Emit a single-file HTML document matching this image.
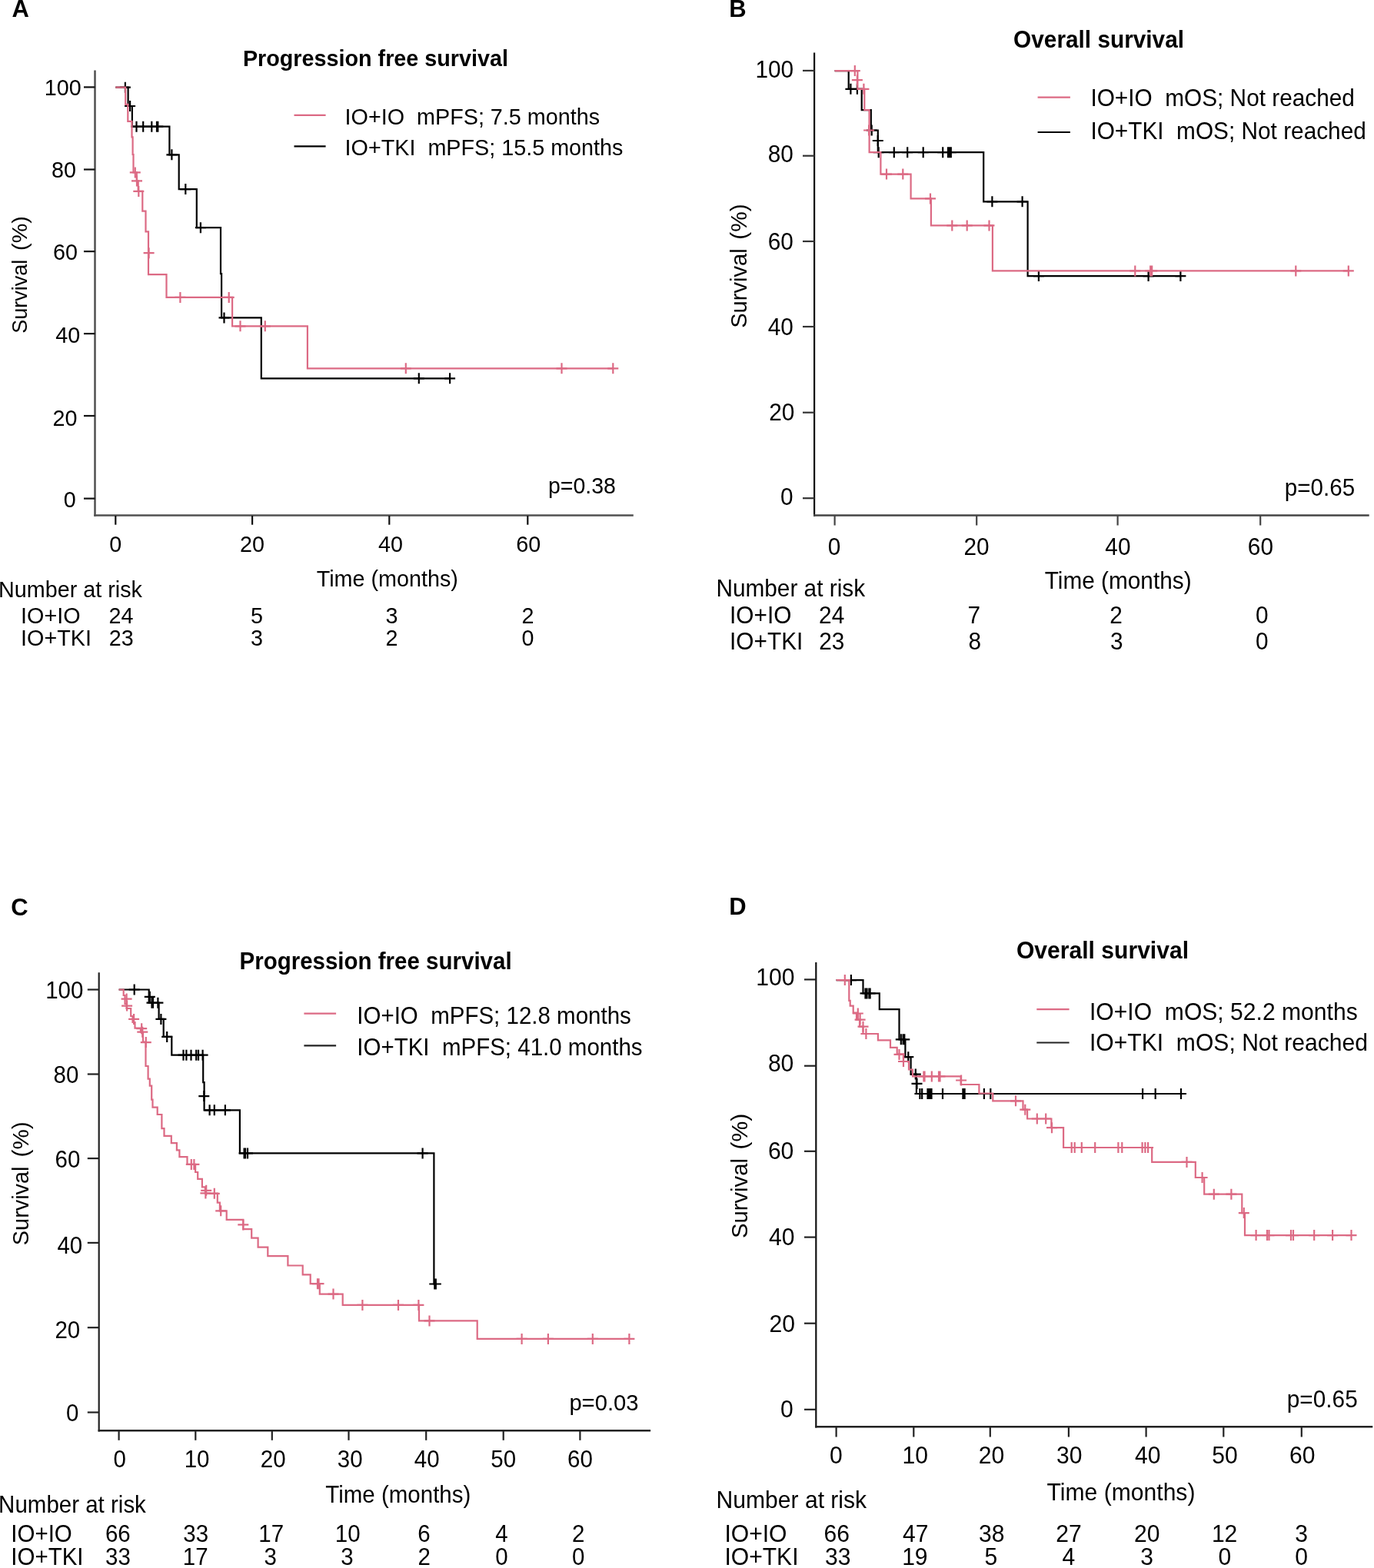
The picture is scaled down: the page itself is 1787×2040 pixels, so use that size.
<!DOCTYPE html><html><head><meta charset="utf-8"><style>html,body{margin:0;padding:0;background:#fff;}svg{display:block;filter:blur(0.45px)}text{font-family:"Liberation Sans",Arial,sans-serif}</style></head><body>
<svg xmlns="http://www.w3.org/2000/svg" width="1787" height="2040" viewBox="0 0 1787 2040">
<rect width="1787" height="2040" fill="#fff"/>
<text x="15.6" y="21.7" transform="matrix(1,0,0,1.035,0,-0.76)" style="font-size:31px;font-weight:bold;" fill="#000" xml:space="preserve">A</text>
<text x="948.3" y="21.7" transform="matrix(1,0,0,1.035,0,-0.76)" style="font-size:31px;font-weight:bold;" fill="#000" xml:space="preserve">B</text>
<text x="14.3" y="1190.6" transform="matrix(1,0,0,1.035,0,-41.67)" style="font-size:31px;font-weight:bold;" fill="#000" xml:space="preserve">C</text>
<text x="948.2" y="1190.4" transform="matrix(1,0,0,1.035,0,-41.66)" style="font-size:31px;font-weight:bold;" fill="#000" xml:space="preserve">D</text>
<text x="315.9" y="86.4" transform="matrix(1,0,0,1.035,0,-3.02)" style="font-size:28.75px;font-weight:bold;" fill="#000" xml:space="preserve">Progression free survival</text>
<line x1="123.5" y1="91.5" x2="123.5" y2="671.7" stroke="#505050" stroke-width="2.5"/>
<line x1="122.3" y1="670.5" x2="823.8" y2="670.5" stroke="#505050" stroke-width="2.5"/>
<line x1="109" y1="113.4" x2="123.5" y2="113.4" stroke="#111" stroke-width="2.2"/>
<text x="57.8" y="124.5" transform="matrix(1,0,0,1.035,0,-4.36)" style="font-size:28.75px;" fill="#000" xml:space="preserve">100</text>
<line x1="109" y1="220.5" x2="123.5" y2="220.5" stroke="#111" stroke-width="2.2"/>
<text x="67.05" y="231.2" transform="matrix(1,0,0,1.035,0,-8.09)" style="font-size:28.75px;" fill="#000" xml:space="preserve">80</text>
<line x1="109" y1="327.1" x2="123.5" y2="327.1" stroke="#111" stroke-width="2.2"/>
<text x="69.1" y="338.2" transform="matrix(1,0,0,1.035,0,-11.84)" style="font-size:28.75px;" fill="#000" xml:space="preserve">60</text>
<line x1="109" y1="434.1" x2="123.5" y2="434.1" stroke="#111" stroke-width="2.2"/>
<text x="72.2" y="446.5" transform="matrix(1,0,0,1.035,0,-15.63)" style="font-size:28.75px;" fill="#000" xml:space="preserve">40</text>
<line x1="109" y1="541" x2="123.5" y2="541" stroke="#111" stroke-width="2.2"/>
<text x="68.6" y="554.4" transform="matrix(1,0,0,1.035,0,-19.4)" style="font-size:28.75px;" fill="#000" xml:space="preserve">20</text>
<line x1="109" y1="648.6" x2="123.5" y2="648.6" stroke="#111" stroke-width="2.2"/>
<text x="82.7" y="659.7" transform="matrix(1,0,0,1.035,0,-23.09)" style="font-size:28.75px;" fill="#000" xml:space="preserve">0</text>
<line x1="150.3" y1="671" x2="150.3" y2="682.7" stroke="#111" stroke-width="2.2"/>
<line x1="328.1" y1="671" x2="328.1" y2="682.7" stroke="#111" stroke-width="2.2"/>
<line x1="506.3" y1="671" x2="506.3" y2="682.7" stroke="#111" stroke-width="2.2"/>
<line x1="686.3" y1="671" x2="686.3" y2="682.7" stroke="#111" stroke-width="2.2"/>
<text x="142.2" y="717.7" transform="matrix(1,0,0,1.035,0,-25.12)" style="font-size:28.75px;" fill="#000" xml:space="preserve">0</text>
<text x="312.05" y="717.7" transform="matrix(1,0,0,1.035,0,-25.12)" style="font-size:28.75px;" fill="#000" xml:space="preserve">20</text>
<text x="492" y="717.7" transform="matrix(1,0,0,1.035,0,-25.12)" style="font-size:28.75px;" fill="#000" xml:space="preserve">40</text>
<text x="671.3" y="717.7" transform="matrix(1,0,0,1.035,0,-25.12)" style="font-size:28.75px;" fill="#000" xml:space="preserve">60</text>
<text x="411.7" y="763.3" transform="matrix(1,0,0,1.035,0,-26.72)" style="font-size:28.75px;" fill="#000" xml:space="preserve">Time (months)</text>
<text transform="translate(35.3,433.82) rotate(-90) scale(0.9398,0.98)" x="0" y="0" style="font-size:28.75px" xml:space="preserve">Survival</text>
<text transform="translate(35.3,325.9) rotate(-90) scale(0.9978,0.98)" x="0" y="0" style="font-size:28.75px" xml:space="preserve">(%)</text>
<text x="713" y="642.5" transform="matrix(1,0,0,1.035,0,-22.49)" style="font-size:28.5px;" fill="#000" xml:space="preserve">p=0.38</text>
<line x1="382.5" y1="149.9" x2="423.6" y2="149.9" stroke="#DC6A84" stroke-width="2.2"/>
<line x1="382.5" y1="190.3" x2="423.6" y2="190.3" stroke="#000" stroke-width="2.2"/>
<text x="448.6" y="162" transform="matrix(1,0,0,1.035,0,-5.67)" style="font-size:28.75px;" fill="#000" xml:space="preserve">IO+IO  mPFS; 7.5 months</text>
<text x="448.6" y="202.3" transform="matrix(1,0,0,1.035,0,-7.08)" style="font-size:28.75px;" fill="#000" xml:space="preserve">IO+TKI  mPFS; 15.5 months</text>
<text x="-1.9" y="777.2" transform="matrix(1,0,0,1.035,0,-27.2)" style="font-size:28.75px;" fill="#000" xml:space="preserve">Number at risk</text>
<text x="27.1" y="811.2" transform="matrix(1,0,0,1.035,0,-28.39)" style="font-size:28.75px;" fill="#000" xml:space="preserve">IO+IO</text>
<text x="27.1" y="839.8" transform="matrix(1,0,0,1.035,0,-29.39)" style="font-size:28.75px;" fill="#000" xml:space="preserve">IO+TKI</text>
<text x="141.6" y="811.3" transform="matrix(1,0,0,1.035,0,-28.4)" style="font-size:28.75px;" fill="#000" xml:space="preserve">24</text>
<text x="325.9" y="811.3" transform="matrix(1,0,0,1.035,0,-28.4)" style="font-size:28.75px;" fill="#000" xml:space="preserve">5</text>
<text x="501.55" y="811.3" transform="matrix(1,0,0,1.035,0,-28.4)" style="font-size:28.75px;" fill="#000" xml:space="preserve">3</text>
<text x="678.5" y="811.3" transform="matrix(1,0,0,1.035,0,-28.4)" style="font-size:28.75px;" fill="#000" xml:space="preserve">2</text>
<text x="141.8" y="839.8" transform="matrix(1,0,0,1.035,0,-29.39)" style="font-size:28.75px;" fill="#000" xml:space="preserve">23</text>
<text x="325.95" y="839.8" transform="matrix(1,0,0,1.035,0,-29.39)" style="font-size:28.75px;" fill="#000" xml:space="preserve">3</text>
<text x="501.5" y="839.8" transform="matrix(1,0,0,1.035,0,-29.39)" style="font-size:28.75px;" fill="#000" xml:space="preserve">2</text>
<text x="678.5" y="839.8" transform="matrix(1,0,0,1.035,0,-29.39)" style="font-size:28.75px;" fill="#000" xml:space="preserve">0</text>
<path d="M150.3,113.7 H166.6 V138 H171.9 V164.7 H220.4 V201.3 H232.7 V246.1 H255.8 V296.2 H287 V356.1 H288.1 V413.4 H339.8 V492.3 H585.1" fill="none" stroke="#000" stroke-width="2.2" stroke-linejoin="miter" stroke-linecap="butt"/>
<path d="M155.9,113.7h14M162.9,106.7v14M162.1,138h14M169.1,131v14M170.5,164.7h14M177.5,157.7v14M179.2,164.7h14M186.2,157.7v14M190.3,164.7h14M197.3,157.7v14M197,164.7h14M204,157.7v14M198.3,164.7h14M205.3,157.7v14M216.4,201.3h14M223.4,194.3v14M234.3,246.1h14M241.3,239.1v14M253.9,296.2h14M260.9,289.2v14M284.5,413.4h14M291.5,406.4v14M537.8,492.3h14M544.8,485.3v14M578.1,492.3h14M585.1,485.3v14" fill="none" stroke="#000" stroke-width="2.2"/>
<path d="M150.3,113.7 H163.2 V135.9 H166.3 V157.8 H171.5 V178.3 H172.6 V201 H173.5 V224.4 H177.8 V235.4 H179.7 V248.9 H185.3 V274.6 H189.5 V301.3 H193 V357.2 H216.5 V386.9 H302.1 V424.3 H399.9 V479.3 H797.3" fill="none" stroke="#DC6A84" stroke-width="2.2" stroke-linejoin="miter" stroke-linecap="butt"/>
<path d="M168.8,224.4h14M175.8,217.4v14M171,235.4h14M178,228.4v14M173.3,248.9h14M180.3,241.9v14M186.6,329.2h14M193.6,322.2v14M227.4,386.9h14M234.4,379.9v14M290.7,386.9h14M297.7,379.9v14M305.5,424.3h14M312.5,417.3v14M337.8,424.3h14M344.8,417.3v14M520.8,479.3h14M527.8,472.3v14M723.5,479.3h14M730.5,472.3v14M790.3,479.3h14M797.3,472.3v14" fill="none" stroke="#DC6A84" stroke-width="2.2"/>
<text x="1318.1" y="62" transform="matrix(1,0,0,1.035,0,-2.17)" style="font-size:29.8px;font-weight:bold;" fill="#000" xml:space="preserve">Overall survival</text>
<line x1="1059.1" y1="68.5" x2="1059.1" y2="671.7" stroke="#111" stroke-width="2.2"/>
<line x1="1058" y1="670.5" x2="1780.7" y2="670.5" stroke="#444" stroke-width="2.5"/>
<line x1="1044" y1="91.9" x2="1059.1" y2="91.9" stroke="#333" stroke-width="2.2"/>
<text x="982.5" y="100.95" transform="matrix(1,0,0,1.035,0,-3.53)" style="font-size:29.8px;" fill="#000" xml:space="preserve">100</text>
<line x1="1044" y1="202.7" x2="1059.1" y2="202.7" stroke="#333" stroke-width="2.2"/>
<text x="998.7" y="211.1" transform="matrix(1,0,0,1.035,0,-7.39)" style="font-size:29.8px;" fill="#000" xml:space="preserve">80</text>
<line x1="1044" y1="314" x2="1059.1" y2="314" stroke="#333" stroke-width="2.2"/>
<text x="998.7" y="324.85" transform="matrix(1,0,0,1.035,0,-11.37)" style="font-size:29.8px;" fill="#000" xml:space="preserve">60</text>
<line x1="1044" y1="425" x2="1059.1" y2="425" stroke="#333" stroke-width="2.2"/>
<text x="998.7" y="435.7" transform="matrix(1,0,0,1.035,0,-15.25)" style="font-size:29.8px;" fill="#000" xml:space="preserve">40</text>
<line x1="1044" y1="536.7" x2="1059.1" y2="536.7" stroke="#333" stroke-width="2.2"/>
<text x="1000.3" y="547.4" transform="matrix(1,0,0,1.035,0,-19.16)" style="font-size:29.8px;" fill="#000" xml:space="preserve">20</text>
<line x1="1044" y1="648.2" x2="1059.1" y2="648.2" stroke="#333" stroke-width="2.2"/>
<text x="1014.9" y="657.35" transform="matrix(1,0,0,1.035,0,-23.01)" style="font-size:29.8px;" fill="#000" xml:space="preserve">0</text>
<line x1="1085.6" y1="671" x2="1085.6" y2="683.5" stroke="#444" stroke-width="2.2"/>
<line x1="1270.2" y1="671" x2="1270.2" y2="683.5" stroke="#444" stroke-width="2.2"/>
<line x1="1453.6" y1="671" x2="1453.6" y2="683.5" stroke="#444" stroke-width="2.2"/>
<line x1="1639.2" y1="671" x2="1639.2" y2="683.5" stroke="#444" stroke-width="2.2"/>
<text x="1076.7" y="722.3" transform="matrix(1,0,0,1.035,0,-25.28)" style="font-size:29.8px;" fill="#000" xml:space="preserve">0</text>
<text x="1253.55" y="722.3" transform="matrix(1,0,0,1.035,0,-25.28)" style="font-size:29.8px;" fill="#000" xml:space="preserve">20</text>
<text x="1437.35" y="722.3" transform="matrix(1,0,0,1.035,0,-25.28)" style="font-size:29.8px;" fill="#000" xml:space="preserve">40</text>
<text x="1622.85" y="722.3" transform="matrix(1,0,0,1.035,0,-25.28)" style="font-size:29.8px;" fill="#000" xml:space="preserve">60</text>
<text x="1358.7" y="765.8" transform="matrix(1,0,0,1.035,0,-26.8)" style="font-size:29.8px;" fill="#000" xml:space="preserve">Time (months)</text>
<text transform="translate(971.3,426.87) rotate(-90) scale(0.9776,0.98)" x="0" y="0" style="font-size:29.8px" xml:space="preserve">Survival</text>
<text transform="translate(971.3,311.7) rotate(-90) scale(1.0006,0.98)" x="0" y="0" style="font-size:29.8px" xml:space="preserve">(%)</text>
<text x="1670.8" y="645.1" transform="matrix(1,0,0,1.035,0,-22.58)" style="font-size:29.6px;" fill="#000" xml:space="preserve">p=0.65</text>
<line x1="1349.6" y1="126.7" x2="1391.9" y2="126.7" stroke="#DC6A84" stroke-width="2.2"/>
<line x1="1349.6" y1="172" x2="1391.9" y2="172" stroke="#000" stroke-width="2.2"/>
<text x="1418.4" y="138.5" transform="matrix(1,0,0,1.035,0,-4.85)" style="font-size:29.8px;" fill="#000" xml:space="preserve">IO+IO  mOS; Not reached</text>
<text x="1418.4" y="180.8" transform="matrix(1,0,0,1.035,0,-6.33)" style="font-size:29.8px;" fill="#000" xml:space="preserve">IO+TKI  mOS; Not reached</text>
<text x="931.4" y="775.7" transform="matrix(1,0,0,1.035,0,-27.15)" style="font-size:29.8px;" fill="#000" xml:space="preserve">Number at risk</text>
<text x="949.1" y="811" transform="matrix(1,0,0,1.035,0,-28.38)" style="font-size:29.8px;" fill="#000" xml:space="preserve">IO+IO</text>
<text x="949.1" y="845" transform="matrix(1,0,0,1.035,0,-29.57)" style="font-size:29.8px;" fill="#000" xml:space="preserve">IO+TKI</text>
<text x="1065.1" y="811" transform="matrix(1,0,0,1.035,0,-28.38)" style="font-size:29.8px;" fill="#000" xml:space="preserve">24</text>
<text x="1258.6" y="811" transform="matrix(1,0,0,1.035,0,-28.38)" style="font-size:29.8px;" fill="#000" xml:space="preserve">7</text>
<text x="1443.2" y="811" transform="matrix(1,0,0,1.035,0,-28.38)" style="font-size:29.8px;" fill="#000" xml:space="preserve">2</text>
<text x="1633.1" y="811" transform="matrix(1,0,0,1.035,0,-28.38)" style="font-size:29.8px;" fill="#000" xml:space="preserve">0</text>
<text x="1065.3" y="845" transform="matrix(1,0,0,1.035,0,-29.57)" style="font-size:29.8px;" fill="#000" xml:space="preserve">23</text>
<text x="1259.6" y="845" transform="matrix(1,0,0,1.035,0,-29.57)" style="font-size:29.8px;" fill="#000" xml:space="preserve">8</text>
<text x="1444.1" y="845" transform="matrix(1,0,0,1.035,0,-29.57)" style="font-size:29.8px;" fill="#000" xml:space="preserve">3</text>
<text x="1633.1" y="845" transform="matrix(1,0,0,1.035,0,-29.57)" style="font-size:29.8px;" fill="#000" xml:space="preserve">0</text>
<path d="M1085.6,92.1 H1103.7 V115.8 H1120.7 V143.1 H1132.8 V169.5 H1141.8 V198.2 H1279.2 V262.3 H1336.6 V359.1 H1535.4" fill="none" stroke="#000" stroke-width="2.2" stroke-linejoin="miter" stroke-linecap="butt"/>
<path d="M1099.4,115.8h14M1106.4,108.8v14M1107.9,115.8h14M1114.9,108.8v14M1126.7,169.5h14M1133.7,162.5v14M1134.8,183h14M1141.8,176v14M1135.7,198.2h14M1142.7,191.2v14M1155.8,198.2h14M1162.8,191.2v14M1173.2,198.2h14M1180.2,191.2v14M1193.7,198.2h14M1200.7,191.2v14M1219.2,198.2h14M1226.2,191.2v14M1226,198.2h14M1233,191.2v14M1228,198.2h14M1235,191.2v14M1229.8,198.2h14M1236.8,191.2v14M1283.4,262.3h14M1290.4,255.3v14M1322.6,262.3h14M1329.6,255.3v14M1343.9,359.1h14M1350.9,352.1v14M1486.6,359.1h14M1493.6,352.1v14M1528.4,359.1h14M1535.4,352.1v14" fill="none" stroke="#000" stroke-width="2.2"/>
<path d="M1085.6,92.1 H1115.4 V115.8 H1124.3 V143.1 H1130.6 V198.2 H1145.4 V226.6 H1184.6 V258.4 H1210.9 V293.4 H1290.9 V352.4 H1753.8" fill="none" stroke="#DC6A84" stroke-width="2.2" stroke-linejoin="miter" stroke-linecap="butt"/>
<path d="M1104.8,92.1h14M1111.8,85.1v14M1107.9,104.2h14M1114.9,97.2v14M1116.4,115.8h14M1123.4,108.8v14M1123.1,169.5h14M1130.1,162.5v14M1146,226.6h14M1153,219.6v14M1167.3,226.6h14M1174.3,219.6v14M1203,258.4h14M1210,251.4v14M1231.3,293.4h14M1238.3,286.4v14M1250.7,293.4h14M1257.7,286.4v14M1279.5,293.4h14M1286.5,286.4v14M1469.3,352.4h14M1476.3,345.4v14M1489.2,352.4h14M1496.2,345.4v14M1491.2,352.4h14M1498.2,345.4v14M1678.3,352.4h14M1685.3,345.4v14M1746.8,352.4h14M1753.8,345.4v14" fill="none" stroke="#DC6A84" stroke-width="2.2"/>
<text x="311.5" y="1260.8" transform="matrix(1,0,0,1.035,0,-44.13)" style="font-size:29.5px;font-weight:bold;" fill="#000" xml:space="preserve">Progression free survival</text>
<line x1="128.7" y1="1265.3" x2="128.7" y2="1862.4" stroke="#222" stroke-width="2.2"/>
<line x1="127.6" y1="1861.2" x2="846.1" y2="1861.2" stroke="#222" stroke-width="2.4"/>
<line x1="113.8" y1="1287.5" x2="128.7" y2="1287.5" stroke="#222" stroke-width="2.2"/>
<text x="59.2" y="1299" transform="matrix(1,0,0,1.035,0,-45.46)" style="font-size:29.5px;" fill="#000" xml:space="preserve">100</text>
<line x1="113.8" y1="1397.5" x2="128.7" y2="1397.5" stroke="#222" stroke-width="2.2"/>
<text x="69.6" y="1409" transform="matrix(1,0,0,1.035,0,-49.31)" style="font-size:29.5px;" fill="#000" xml:space="preserve">80</text>
<line x1="113.8" y1="1507.1" x2="128.7" y2="1507.1" stroke="#222" stroke-width="2.2"/>
<text x="71.6" y="1519.05" transform="matrix(1,0,0,1.035,0,-53.17)" style="font-size:29.5px;" fill="#000" xml:space="preserve">60</text>
<line x1="113.8" y1="1616.9" x2="128.7" y2="1616.9" stroke="#222" stroke-width="2.2"/>
<text x="74.4" y="1630.6" transform="matrix(1,0,0,1.035,0,-57.07)" style="font-size:29.5px;" fill="#000" xml:space="preserve">40</text>
<line x1="113.8" y1="1727.2" x2="128.7" y2="1727.2" stroke="#222" stroke-width="2.2"/>
<text x="71.4" y="1741.1" transform="matrix(1,0,0,1.035,0,-60.94)" style="font-size:29.5px;" fill="#000" xml:space="preserve">20</text>
<line x1="113.8" y1="1837.5" x2="128.7" y2="1837.5" stroke="#222" stroke-width="2.2"/>
<text x="85.95" y="1849" transform="matrix(1,0,0,1.035,0,-64.71)" style="font-size:29.5px;" fill="#000" xml:space="preserve">0</text>
<line x1="154.6" y1="1862" x2="154.6" y2="1873.8" stroke="#222" stroke-width="2.2"/>
<line x1="254.3" y1="1862" x2="254.3" y2="1873.8" stroke="#222" stroke-width="2.2"/>
<line x1="353.8" y1="1862" x2="353.8" y2="1873.8" stroke="#222" stroke-width="2.2"/>
<line x1="453.5" y1="1862" x2="453.5" y2="1873.8" stroke="#222" stroke-width="2.2"/>
<line x1="554.2" y1="1862" x2="554.2" y2="1873.8" stroke="#222" stroke-width="2.2"/>
<line x1="654.7" y1="1862" x2="654.7" y2="1873.8" stroke="#222" stroke-width="2.2"/>
<line x1="754.4" y1="1862" x2="754.4" y2="1873.8" stroke="#222" stroke-width="2.2"/>
<text x="147.6" y="1908.8" transform="matrix(1,0,0,1.035,0,-66.81)" style="font-size:29.5px;" fill="#000" xml:space="preserve">0</text>
<text x="239.65" y="1908.8" transform="matrix(1,0,0,1.035,0,-66.81)" style="font-size:29.5px;" fill="#000" xml:space="preserve">10</text>
<text x="338.8" y="1908.8" transform="matrix(1,0,0,1.035,0,-66.81)" style="font-size:29.5px;" fill="#000" xml:space="preserve">20</text>
<text x="438.8" y="1908.8" transform="matrix(1,0,0,1.035,0,-66.81)" style="font-size:29.5px;" fill="#000" xml:space="preserve">30</text>
<text x="538.8" y="1908.8" transform="matrix(1,0,0,1.035,0,-66.81)" style="font-size:29.5px;" fill="#000" xml:space="preserve">40</text>
<text x="638.35" y="1908.8" transform="matrix(1,0,0,1.035,0,-66.81)" style="font-size:29.5px;" fill="#000" xml:space="preserve">50</text>
<text x="738" y="1908.8" transform="matrix(1,0,0,1.035,0,-66.81)" style="font-size:29.5px;" fill="#000" xml:space="preserve">60</text>
<text x="423.3" y="1955.5" transform="matrix(1,0,0,1.035,0,-68.44)" style="font-size:29.5px;" fill="#000" xml:space="preserve">Time (months)</text>
<text transform="translate(36.6,1620.17) rotate(-90) scale(0.9793,0.98)" x="0" y="0" style="font-size:29.5px" xml:space="preserve">Survival</text>
<text transform="translate(36.6,1505.4) rotate(-90) scale(1.0005,0.98)" x="0" y="0" style="font-size:29.5px" xml:space="preserve">(%)</text>
<text x="740.4" y="1835.1" transform="matrix(1,0,0,1.035,0,-64.23)" style="font-size:29.2px;" fill="#000" xml:space="preserve">p=0.03</text>
<line x1="395.4" y1="1318.7" x2="437.1" y2="1318.7" stroke="#DC6A84" stroke-width="2.2"/>
<line x1="395.4" y1="1360.3" x2="437.1" y2="1360.3" stroke="#222" stroke-width="2.2"/>
<text x="464.3" y="1332.1" transform="matrix(1,0,0,1.035,0,-46.62)" style="font-size:29.5px;" fill="#000" xml:space="preserve">IO+IO  mPFS; 12.8 months</text>
<text x="464.3" y="1372.9" transform="matrix(1,0,0,1.035,0,-48.05)" style="font-size:29.5px;" fill="#000" xml:space="preserve">IO+TKI  mPFS; 41.0 months</text>
<text x="-1.9" y="1968.3" transform="matrix(1,0,0,1.035,0,-68.89)" style="font-size:29.5px;" fill="#000" xml:space="preserve">Number at risk</text>
<text x="14.3" y="2005.8" transform="matrix(1,0,0,1.035,0,-70.2)" style="font-size:29.5px;" fill="#000" xml:space="preserve">IO+IO</text>
<text x="14.3" y="2035.8" transform="matrix(1,0,0,1.035,0,-71.25)" style="font-size:29.5px;" fill="#000" xml:space="preserve">IO+TKI</text>
<text x="136.9" y="2005.8" transform="matrix(1,0,0,1.035,0,-70.2)" style="font-size:29.5px;" fill="#000" xml:space="preserve">66</text>
<text x="238.3" y="2005.8" transform="matrix(1,0,0,1.035,0,-70.2)" style="font-size:29.5px;" fill="#000" xml:space="preserve">33</text>
<text x="336.25" y="2005.8" transform="matrix(1,0,0,1.035,0,-70.2)" style="font-size:29.5px;" fill="#000" xml:space="preserve">17</text>
<text x="435.85" y="2005.8" transform="matrix(1,0,0,1.035,0,-70.2)" style="font-size:29.5px;" fill="#000" xml:space="preserve">10</text>
<text x="543.3" y="2005.8" transform="matrix(1,0,0,1.035,0,-70.2)" style="font-size:29.5px;" fill="#000" xml:space="preserve">6</text>
<text x="644.25" y="2005.8" transform="matrix(1,0,0,1.035,0,-70.2)" style="font-size:29.5px;" fill="#000" xml:space="preserve">4</text>
<text x="744" y="2005.8" transform="matrix(1,0,0,1.035,0,-70.2)" style="font-size:29.5px;" fill="#000" xml:space="preserve">2</text>
<text x="137.1" y="2035.8" transform="matrix(1,0,0,1.035,0,-71.25)" style="font-size:29.5px;" fill="#000" xml:space="preserve">33</text>
<text x="237.85" y="2035.8" transform="matrix(1,0,0,1.035,0,-71.25)" style="font-size:29.5px;" fill="#000" xml:space="preserve">17</text>
<text x="343.4" y="2035.8" transform="matrix(1,0,0,1.035,0,-71.25)" style="font-size:29.5px;" fill="#000" xml:space="preserve">3</text>
<text x="443.2" y="2035.8" transform="matrix(1,0,0,1.035,0,-71.25)" style="font-size:29.5px;" fill="#000" xml:space="preserve">3</text>
<text x="543.4" y="2035.8" transform="matrix(1,0,0,1.035,0,-71.25)" style="font-size:29.5px;" fill="#000" xml:space="preserve">2</text>
<text x="644.2" y="2035.8" transform="matrix(1,0,0,1.035,0,-71.25)" style="font-size:29.5px;" fill="#000" xml:space="preserve">0</text>
<text x="744" y="2035.8" transform="matrix(1,0,0,1.035,0,-71.25)" style="font-size:29.5px;" fill="#000" xml:space="preserve">0</text>
<path d="M154.6,1287.5 H193.7 V1304.7 H206.6 V1325.9 H212.7 V1348.9 H223.3 V1372.7 H264.2 V1408.2 H265.6 V1444.3 H311.9 V1500.4 H564.4 V1670.5 H566.8" fill="none" stroke="#000" stroke-width="2.2" stroke-linejoin="miter" stroke-linecap="butt"/>
<path d="M167.7,1287.5h14M174.7,1280.5v14M187.8,1296.8h14M194.8,1289.8v14M190.5,1304.7h14M197.5,1297.7v14M192,1304.7h14M199,1297.7v14M198.4,1304.7h14M205.4,1297.7v14M202.4,1325.9h14M209.4,1318.9v14M210.2,1348.9h14M217.2,1341.9v14M231.5,1372.7h14M238.5,1365.7v14M235.4,1372.7h14M242.4,1365.7v14M241.5,1372.7h14M248.5,1365.7v14M248.2,1372.7h14M255.2,1365.7v14M251,1372.7h14M258,1365.7v14M256.6,1372.7h14M263.6,1365.7v14M258.3,1426.1h14M265.3,1419.1v14M265.6,1444.3h14M272.6,1437.3v14M271.8,1444.3h14M278.8,1437.3v14M285.9,1444.3h14M292.9,1437.3v14M310.6,1500.4h14M317.6,1493.4v14M312,1500.4h14M319,1493.4v14M315,1500.4h14M322,1493.4v14M542.6,1500.4h14M549.6,1493.4v14M558.3,1670.5h14M565.3,1663.5v14M559.8,1670.5h14M566.8,1663.5v14" fill="none" stroke="#000" stroke-width="2.2"/>
<path d="M154.6,1287.5 H160.7 V1295 H162.5 V1306 H164.5 V1312 H170.2 V1322 H172.5 V1330 H175.5 V1337.7 H183 V1343 H186 V1355.6 H189.5 V1387 H192.6 V1403.7 H194.8 V1412.7 H197.2 V1430.6 H198.5 V1440.7 H204.7 V1450 H210.4 V1468.1 H213.5 V1477.8 H222.8 V1487.1 H229.9 V1496.3 H233.4 V1505.1 H243.5 V1514.9 H254.1 V1525 H257.2 V1533.8 H262.9 V1544.4 H266.9 V1552.6 H282.8 V1564.7 H285.9 V1575.3 H294.7 V1586.8 H316.3 V1599.2 H327.2 V1610.6 H335.6 V1622.7 H348.3 V1634.1 H374.4 V1646.5 H393.7 V1658.3 H403.7 V1670.2 H415.8 V1683.6 H445.7 V1697.9 H545 V1718.4 H620.7 V1741.9 H818.4" fill="none" stroke="#DC6A84" stroke-width="2.2" stroke-linejoin="miter" stroke-linecap="butt"/>
<path d="M157.6,1299.6h14M164.6,1292.6v14M158.1,1308.6h14M165.1,1301.6v14M167.1,1325.9h14M174.1,1318.9v14M177.2,1338.2h14M184.2,1331.2v14M178.3,1342.7h14M185.3,1335.7v14M182.8,1356.1h14M189.8,1349.1v14M241.8,1514.9h14M248.8,1507.9v14M245.4,1514.9h14M252.4,1507.9v14M261.2,1548.8h14M268.2,1541.8v14M260.4,1552.4h14M267.4,1545.4v14M271.8,1552.8h14M278.8,1545.8v14M280.2,1575.3h14M287.2,1568.3v14M309.3,1593.4h14M316.3,1586.4v14M406,1670.2h14M413,1663.2v14M407.5,1670.2h14M414.5,1663.2v14M426.5,1683.6h14M433.5,1676.6v14M464.4,1697.9h14M471.4,1690.9v14M511,1697.9h14M518,1690.9v14M537.4,1697.9h14M544.4,1690.9v14M551.5,1718.4h14M558.5,1711.4v14M671.6,1741.9h14M678.6,1734.9v14M705.9,1741.9h14M712.9,1734.9v14M763.8,1741.9h14M770.8,1734.9v14M811.4,1741.9h14M818.4,1734.9v14" fill="none" stroke="#DC6A84" stroke-width="2.2"/>
<text x="1321.9" y="1247" transform="matrix(1,0,0,1.035,0,-43.64)" style="font-size:30.1px;font-weight:bold;" fill="#000" xml:space="preserve">Overall survival</text>
<line x1="1061.3" y1="1252" x2="1061.3" y2="1857.4" stroke="#111" stroke-width="2.2"/>
<line x1="1060.2" y1="1856.2" x2="1785.3" y2="1856.2" stroke="#222" stroke-width="2.4"/>
<line x1="1046" y1="1274.4" x2="1061.3" y2="1274.4" stroke="#222" stroke-width="2.2"/>
<text x="983.2" y="1282.3" transform="matrix(1,0,0,1.035,0,-44.88)" style="font-size:30.1px;" fill="#000" xml:space="preserve">100</text>
<line x1="1046" y1="1386.7" x2="1061.3" y2="1386.7" stroke="#222" stroke-width="2.2"/>
<text x="998.9" y="1393.95" transform="matrix(1,0,0,1.035,0,-48.79)" style="font-size:30.1px;" fill="#000" xml:space="preserve">80</text>
<line x1="1046" y1="1497.8" x2="1061.3" y2="1497.8" stroke="#222" stroke-width="2.2"/>
<text x="998.9" y="1508.4" transform="matrix(1,0,0,1.035,0,-52.79)" style="font-size:30.1px;" fill="#000" xml:space="preserve">60</text>
<line x1="1046" y1="1609.6" x2="1061.3" y2="1609.6" stroke="#222" stroke-width="2.2"/>
<text x="1000" y="1619.8" transform="matrix(1,0,0,1.035,0,-56.69)" style="font-size:30.1px;" fill="#000" xml:space="preserve">40</text>
<line x1="1046" y1="1721.7" x2="1061.3" y2="1721.7" stroke="#222" stroke-width="2.2"/>
<text x="1000.4" y="1732.9" transform="matrix(1,0,0,1.035,0,-60.65)" style="font-size:30.1px;" fill="#000" xml:space="preserve">20</text>
<line x1="1046" y1="1833.8" x2="1061.3" y2="1833.8" stroke="#222" stroke-width="2.2"/>
<text x="1014.9" y="1844.3" transform="matrix(1,0,0,1.035,0,-64.55)" style="font-size:30.1px;" fill="#000" xml:space="preserve">0</text>
<line x1="1087.6" y1="1857" x2="1087.6" y2="1869.5" stroke="#222" stroke-width="2.2"/>
<line x1="1188.3" y1="1857" x2="1188.3" y2="1869.5" stroke="#222" stroke-width="2.2"/>
<line x1="1287.8" y1="1857" x2="1287.8" y2="1869.5" stroke="#222" stroke-width="2.2"/>
<line x1="1389.9" y1="1857" x2="1389.9" y2="1869.5" stroke="#222" stroke-width="2.2"/>
<line x1="1490.6" y1="1857" x2="1490.6" y2="1869.5" stroke="#222" stroke-width="2.2"/>
<line x1="1591.3" y1="1857" x2="1591.3" y2="1869.5" stroke="#222" stroke-width="2.2"/>
<line x1="1692.8" y1="1857" x2="1692.8" y2="1869.5" stroke="#222" stroke-width="2.2"/>
<text x="1079" y="1904.2" transform="matrix(1,0,0,1.035,0,-66.65)" style="font-size:30.1px;" fill="#000" xml:space="preserve">0</text>
<text x="1173.4" y="1904.2" transform="matrix(1,0,0,1.035,0,-66.65)" style="font-size:30.1px;" fill="#000" xml:space="preserve">10</text>
<text x="1272.8" y="1904.2" transform="matrix(1,0,0,1.035,0,-66.65)" style="font-size:30.1px;" fill="#000" xml:space="preserve">20</text>
<text x="1373.9" y="1904.2" transform="matrix(1,0,0,1.035,0,-66.65)" style="font-size:30.1px;" fill="#000" xml:space="preserve">30</text>
<text x="1476" y="1904.2" transform="matrix(1,0,0,1.035,0,-66.65)" style="font-size:30.1px;" fill="#000" xml:space="preserve">40</text>
<text x="1576.25" y="1904.2" transform="matrix(1,0,0,1.035,0,-66.65)" style="font-size:30.1px;" fill="#000" xml:space="preserve">50</text>
<text x="1677" y="1904.2" transform="matrix(1,0,0,1.035,0,-66.65)" style="font-size:30.1px;" fill="#000" xml:space="preserve">60</text>
<text x="1361.6" y="1951.8" transform="matrix(1,0,0,1.035,0,-68.31)" style="font-size:30.1px;" fill="#000" xml:space="preserve">Time (months)</text>
<text transform="translate(971.6,1611.06) rotate(-90) scale(0.9721,0.98)" x="0" y="0" style="font-size:30.1px" xml:space="preserve">Survival</text>
<text transform="translate(971.6,1495.51) rotate(-90) scale(1.0031,0.98)" x="0" y="0" style="font-size:30.1px" xml:space="preserve">(%)</text>
<text x="1673.8" y="1831.3" transform="matrix(1,0,0,1.035,0,-64.1)" style="font-size:29.8px;" fill="#000" xml:space="preserve">p=0.65</text>
<line x1="1348.3" y1="1313.2" x2="1390.6" y2="1313.2" stroke="#DC6A84" stroke-width="2.2"/>
<line x1="1348.3" y1="1356.5" x2="1390.6" y2="1356.5" stroke="#222" stroke-width="2.2"/>
<text x="1417" y="1327" transform="matrix(1,0,0,1.035,0,-46.44)" style="font-size:30.1px;" fill="#000" xml:space="preserve">IO+IO  mOS; 52.2 months</text>
<text x="1417" y="1366.8" transform="matrix(1,0,0,1.035,0,-47.84)" style="font-size:30.1px;" fill="#000" xml:space="preserve">IO+TKI  mOS; Not reached</text>
<text x="931.5" y="1962.1" transform="matrix(1,0,0,1.035,0,-68.67)" style="font-size:30.1px;" fill="#000" xml:space="preserve">Number at risk</text>
<text x="942.4" y="2005.6" transform="matrix(1,0,0,1.035,0,-70.2)" style="font-size:30.1px;" fill="#000" xml:space="preserve">IO+IO</text>
<text x="942.4" y="2035.8" transform="matrix(1,0,0,1.035,0,-71.25)" style="font-size:30.1px;" fill="#000" xml:space="preserve">IO+TKI</text>
<text x="1071.6" y="2005.6" transform="matrix(1,0,0,1.035,0,-70.2)" style="font-size:30.1px;" fill="#000" xml:space="preserve">66</text>
<text x="1174" y="2005.6" transform="matrix(1,0,0,1.035,0,-70.2)" style="font-size:30.1px;" fill="#000" xml:space="preserve">47</text>
<text x="1273.1" y="2005.6" transform="matrix(1,0,0,1.035,0,-70.2)" style="font-size:30.1px;" fill="#000" xml:space="preserve">38</text>
<text x="1373.2" y="2005.6" transform="matrix(1,0,0,1.035,0,-70.2)" style="font-size:30.1px;" fill="#000" xml:space="preserve">27</text>
<text x="1474.9" y="2005.6" transform="matrix(1,0,0,1.035,0,-70.2)" style="font-size:30.1px;" fill="#000" xml:space="preserve">20</text>
<text x="1575.9" y="2005.6" transform="matrix(1,0,0,1.035,0,-70.2)" style="font-size:30.1px;" fill="#000" xml:space="preserve">12</text>
<text x="1684.35" y="2005.6" transform="matrix(1,0,0,1.035,0,-70.2)" style="font-size:30.1px;" fill="#000" xml:space="preserve">3</text>
<text x="1072.9" y="2035.8" transform="matrix(1,0,0,1.035,0,-71.25)" style="font-size:30.1px;" fill="#000" xml:space="preserve">33</text>
<text x="1173.15" y="2035.8" transform="matrix(1,0,0,1.035,0,-71.25)" style="font-size:30.1px;" fill="#000" xml:space="preserve">19</text>
<text x="1280.45" y="2035.8" transform="matrix(1,0,0,1.035,0,-71.25)" style="font-size:30.1px;" fill="#000" xml:space="preserve">5</text>
<text x="1381.4" y="2035.8" transform="matrix(1,0,0,1.035,0,-71.25)" style="font-size:30.1px;" fill="#000" xml:space="preserve">4</text>
<text x="1483.35" y="2035.8" transform="matrix(1,0,0,1.035,0,-71.25)" style="font-size:30.1px;" fill="#000" xml:space="preserve">3</text>
<text x="1584.6" y="2035.8" transform="matrix(1,0,0,1.035,0,-71.25)" style="font-size:30.1px;" fill="#000" xml:space="preserve">0</text>
<text x="1684.2" y="2035.8" transform="matrix(1,0,0,1.035,0,-71.25)" style="font-size:30.1px;" fill="#000" xml:space="preserve">0</text>
<path d="M1087.6,1275.1 H1122.5 V1292.4 H1143.8 V1313.1 H1169.5 V1352.3 H1177.4 V1375.2 H1184.6 V1397.6 H1191.9 V1423 H1536" fill="none" stroke="#000" stroke-width="2.2" stroke-linejoin="miter" stroke-linecap="butt"/>
<path d="M1099.9,1275.1h14M1106.9,1268.1v14M1118.5,1292.4h14M1125.5,1285.4v14M1120.5,1292.4h14M1127.5,1285.4v14M1123.4,1292.4h14M1130.4,1285.4v14M1124.6,1292.4h14M1131.6,1285.4v14M1164.8,1352.3h14M1171.8,1345.3v14M1167.6,1352.3h14M1174.6,1345.3v14M1169.3,1352.3h14M1176.3,1345.3v14M1174.3,1375.2h14M1181.3,1368.2v14M1183.8,1397.6h14M1190.8,1390.6v14M1185.5,1409.9h14M1192.5,1402.9v14M1189.4,1423h14M1196.4,1416v14M1192.2,1423h14M1199.2,1416v14M1199.5,1423h14M1206.5,1416v14M1201.2,1423h14M1208.2,1416v14M1202.8,1423h14M1209.8,1416v14M1204.5,1423h14M1211.5,1416v14M1219,1423h14M1226,1416v14M1245.4,1423h14M1252.4,1416v14M1247.6,1423h14M1254.6,1416v14M1272.9,1423h14M1279.9,1416v14M1281.3,1423h14M1288.3,1416v14M1479.1,1423h14M1486.1,1416v14M1495.7,1423h14M1502.7,1416v14M1529,1423h14M1536,1416v14" fill="none" stroke="#000" stroke-width="2.2"/>
<path d="M1087.6,1275.1 H1104.3 V1301.9 H1105.7 V1308.6 H1109.7 V1317.6 H1114 V1326.6 H1118 V1335.7 H1122.5 V1345 H1141.9 V1353.4 H1158 V1362.9 H1166.7 V1371.3 H1175 V1381 H1182 V1391.5 H1187 V1400.4 H1249.6 V1411 H1273.4 V1422.5 H1291.3 V1432.3 H1330.5 V1443.7 H1336.1 V1455.5 H1367.4 V1467.2 H1383.1 V1493 H1498.2 V1511.9 H1554.8 V1532 H1566.2 V1553.7 H1615.3 V1578.1 H1619 V1607.1 H1757.5" fill="none" stroke="#DC6A84" stroke-width="2.2" stroke-linejoin="miter" stroke-linecap="butt"/>
<path d="M1091.8,1275.1h14M1098.8,1268.1v14M1108.8,1318.5h14M1115.8,1311.5v14M1111.6,1326.6h14M1118.6,1319.6v14M1115.5,1335.7h14M1122.5,1328.7v14M1119.4,1345h14M1126.4,1338v14M1162.5,1371.9h14M1169.5,1364.9v14M1168,1381h14M1175,1374v14M1194.4,1400.4h14M1201.4,1393.4v14M1195.5,1400.4h14M1202.5,1393.4v14M1204.8,1400.4h14M1211.8,1393.4v14M1214,1400.4h14M1221,1393.4v14M1215.5,1400.4h14M1222.5,1393.4v14M1243.1,1405.5h14M1250.1,1398.5v14M1314,1432.3h14M1321,1425.3v14M1326.3,1443.7h14M1333.3,1436.7v14M1341.8,1455.5h14M1348.8,1448.5v14M1353.2,1455.5h14M1360.2,1448.5v14M1361,1467.2h14M1368,1460.2v14M1386.7,1493h14M1393.7,1486v14M1390.7,1493h14M1397.7,1486v14M1399.8,1493h14M1406.8,1486v14M1417.2,1493h14M1424.2,1486v14M1447.4,1493h14M1454.4,1486v14M1452.3,1493h14M1459.3,1486v14M1478.6,1493h14M1485.6,1486v14M1482.4,1493h14M1489.4,1486v14M1486.1,1493h14M1493.1,1486v14M1536.5,1511.9h14M1543.5,1504.9v14M1556.6,1532h14M1563.6,1525v14M1571.8,1553.7h14M1578.8,1546.7v14M1594.4,1553.7h14M1601.4,1546.7v14M1610.8,1578.1h14M1617.8,1571.1v14M1626.6,1607.1h14M1633.6,1600.1v14M1641,1607.1h14M1648,1600.1v14M1643.5,1607.1h14M1650.5,1600.1v14M1672,1607.1h14M1679,1600.1v14M1675,1607.1h14M1682,1600.1v14M1702.2,1607.1h14M1709.2,1600.1v14M1726.1,1607.1h14M1733.1,1600.1v14M1750.5,1607.1h14M1757.5,1600.1v14" fill="none" stroke="#DC6A84" stroke-width="2.2"/>
</svg></body></html>
